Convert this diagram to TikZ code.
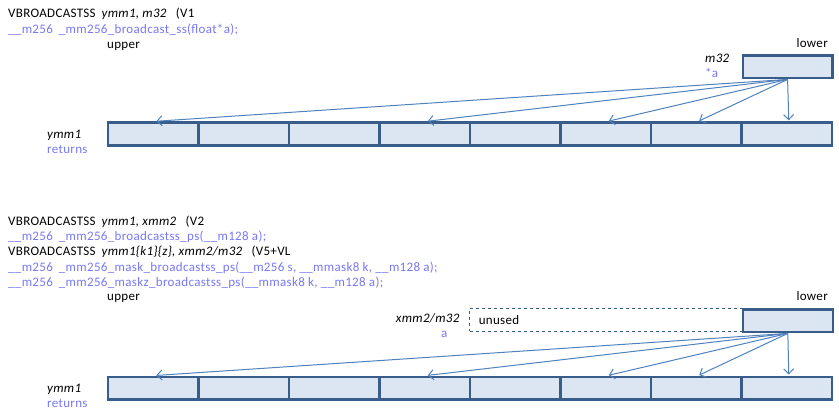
\documentclass[tikz,border=0pt]{standalone}
\usepackage{fontspec}
\setmainfont{Carlito}[LetterSpace=2.5]
\usetikzlibrary{arrows.meta}
\definecolor{regborder}{RGB}{56,93,138}
\definecolor{regfill}{RGB}{220,230,242}
\definecolor{flow}{RGB}{79,129,189}
\definecolor{codeblue}{RGB}{120,120,245}
\tikzset{>={Straight Barb[length=5pt,width=10pt]}}
\tikzset{cell/.style={draw=regborder, fill=regfill, line width=2.7pt, minimum width=90.5pt, minimum height=22.7pt, inner sep=0pt, anchor=north west}}
\tikzset{padbox/.style={draw=regborder, dashed, line width=0.8pt, minimum width=272.2pt, minimum height=23pt, text width=254pt, inner xsep=9pt, align=left, anchor=north west}}
\tikzset{bcast/.style={->, draw=flow, line width=1pt, shorten >=1pt}}
\tikzset{txt/.style={anchor=base west, inner sep=0pt}}
\tikzset{code/.style={txt, text=codeblue}}

\begin{document}
\begin{tikzpicture}[x=1pt,y=-1pt,font=\fontsize{13pt}{15pt}\selectfont]
      \useasboundingbox (0,0) rectangle (839,418);
      % V1 form, memory source
      \node[txt] (ins1) at (8,17.5) {VBROADCASTSS\hspace{6pt}\textit{ymm1, m32}\hspace{9pt}(V1};
      \node[code] (fn1) at (8,33) {\_\_m256\hspace{6pt}\_mm256\_broadcast\_ss(float*a);};
      \node[txt] (up1) at (107,48.5) {upper};
      \node[txt,anchor=base east] (lo1) at (828,47.5) {lower};
      \node[txt] (m32) at (705,62.7) {\textit{m32}};
      \node[code] (pa) at (705,77.5) {*a};
      \node[cell,minimum width=89.5pt] (src1) at (741.5,54) {};
      \foreach \i in {1,...,8}
        \node[cell] (r\i) at ({106.7+(\i-1)*90.5},121.3) {};
      \node[txt] (y1) at (47,138.5) {\textit{ymm1}};
      \node[code] (ret1) at (47,153.5) {returns};
      \foreach \i in {1,4,6,7,8}
        \draw[bcast] (src1.south) -- ([xshift=2pt]r\i.north);

      % V2 and V5+VL forms, register source
      \node[txt] (ins2) at (8,225) {VBROADCASTSS\hspace{6pt}\textit{ymm1, xmm2}\hspace{9pt}(V2};
      \node[code] (fn2) at (8,240.5) {\_\_m256\hspace{6pt}\_mm256\_broadcastss\_ps(\_\_m128 a);};
      \node[txt] (ins3) at (8,255.5) {VBROADCASTSS\hspace{6pt}\textit{ymm1\{k1\}\{z\}, xmm2/m32}\hspace{9pt}(V5+VL};
      \node[code] (fn3) at (8,271) {\_\_m256\hspace{6pt}\_mm256\_mask\_broadcastss\_ps(\_\_m256 s, \_\_mmask8 k, \_\_m128 a);};
      \node[code] (fn4) at (8,286.5) {\_\_m256\hspace{6pt}\_mm256\_maskz\_broadcastss\_ps(\_\_mmask8 k, \_\_m128 a);};
      \node[txt] (up2) at (107,300.5) {upper};
      \node[txt,anchor=base east] (lo2) at (828,300) {lower};
      \node[txt,anchor=base east] (xm) at (460,322) {\textit{xmm2/m32}};
      \node[code] (va) at (441,337.7) {a};
      \node[padbox] (pad) at (469.3,307.7) {unused};
      \node[cell,minimum width=90pt] (src2) at (741.5,308) {};
      \foreach \i in {1,...,8}
        \node[cell] (s\i) at ({106.7+(\i-1)*90.5},375.5) {};
      \node[txt] (y2) at (47,392.7) {\textit{ymm1}};
      \node[code] (ret2) at (47,407.5) {returns};
      \foreach \i in {1,4,6,7,8}
        \draw[bcast] (src2.south) -- ([xshift=2pt]s\i.north);
\end{tikzpicture}
\end{document}
